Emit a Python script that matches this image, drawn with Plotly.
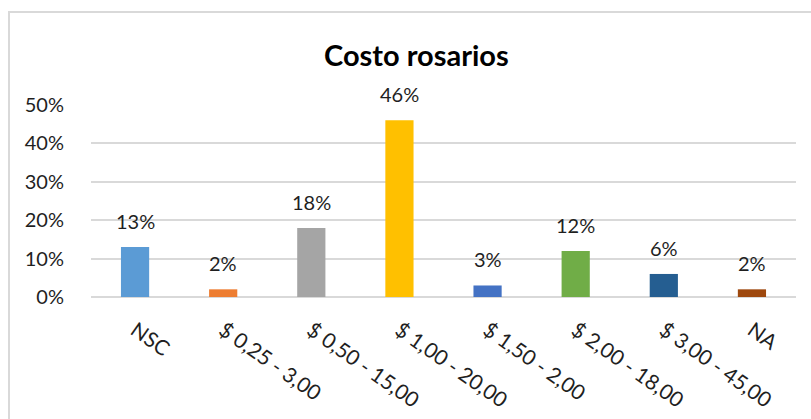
import plotly.graph_objects as go

categories = ["NSC", "$ 0,25 - 3,00", "$ 0,50 - 15,00", "$ 1,00 - 20,00",
              "$ 1,50 - 2,00", "$ 2,00 - 18,00", "$ 3,00 - 45,00", "NA"]
values = [0.13, 0.02, 0.18, 0.46, 0.03, 0.12, 0.06, 0.02]
colors = ["#5B9BD5", "#ED7D31", "#A5A5A5", "#FFC000",
          "#4472C4", "#70AD47", "#255E91", "#9E480E"]
y_ticks = [0, 0.1, 0.2, 0.3, 0.4, 0.5]
y_tick_labels = ["0%", "10%", "20%", "30%", "40%", "50%"]
title = "Costo rosarios"

W, H = 811, 419
ML, MR, MT, MB = 91, 15, 105, 122
FONT = "Lato, 'Open Sans', sans-serif"
TXT = "#1f1f1f"

fig = go.Figure()
fig.add_trace(go.Bar(
    x=categories, y=values, marker=dict(color=colors, line=dict(width=0)),
    width=0.32, hoverinfo="skip", showlegend=False,
))

annotations = []
for c, v in zip(categories, values):
    annotations.append(dict(
        x=c, y=v, xref="x", yref="y", text=f"{round(v*100)}%",
        showarrow=False, yanchor="bottom", yshift=12,
        font=dict(family=FONT, size=20, color=TXT),
    ))

pw = W - ML - MR
ph = H - MT - MB
# chart border (outer frame)
shapes = [dict(
    type="rect", xref="paper", yref="paper",
    x0=(9 - ML) / pw, x1=(830 - ML) / pw,
    y0=-(MB + 20) / ph, y1=1 + (MT - 12) / ph,
    line=dict(color="#D9D9D9", width=2), fillcolor="rgba(0,0,0,0)", layer="below",
)]

annotations.append(dict(
    x=(416 - ML) / pw, y=1 + (MT - 55) / ph, xref="paper", yref="paper",
    text=f"<b>{title}</b>", showarrow=False, xanchor="center", yanchor="middle",
    font=dict(family=FONT, size=29, color="#000000"),
))

fig.update_layout(
    width=W, height=H,
    margin=dict(l=ML, r=MR, t=MT, b=MB, pad=0, autoexpand=False),
    paper_bgcolor="white", plot_bgcolor="white",
    annotations=annotations, shapes=shapes,
    xaxis=dict(
        type="category", tickangle=35, showgrid=False, showline=False,
        automargin=False,
        ticks="outside", ticklen=0, ticklabelstandoff=12,
        tickfont=dict(family=FONT, size=21, color=TXT),
        range=[-0.5, len(categories) - 0.5],
    ),
    yaxis=dict(
        range=[0, 0.5], tickvals=y_ticks, ticktext=y_tick_labels,
        automargin=False,
        showgrid=True, gridcolor="#D9D9D9", gridwidth=1.5,
        zeroline=True, zerolinecolor="#D9D9D9", zerolinewidth=1.5,
        showline=False, ticks="outside", ticklen=0, ticklabelstandoff=22,
        tickfont=dict(family=FONT, size=20, color=TXT),
    ),
)

fig.write_html("out.html")
